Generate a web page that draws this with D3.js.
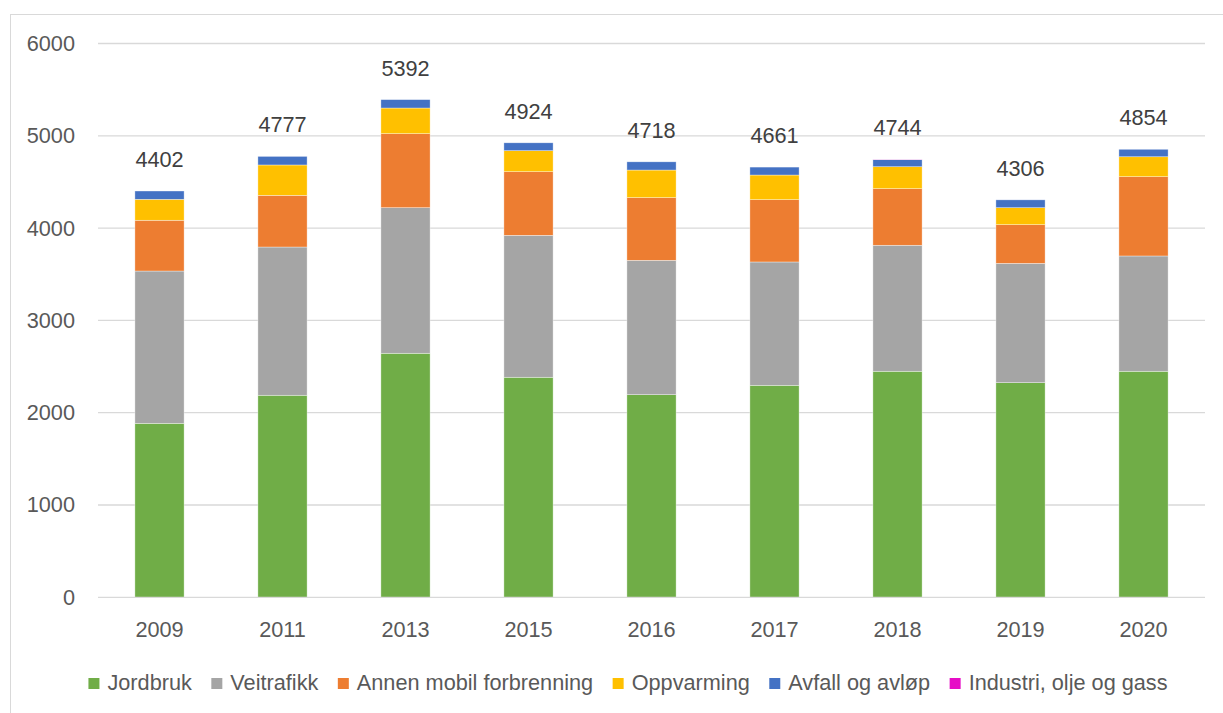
<!DOCTYPE html>
<html>
<head>
<meta charset="utf-8">
<script src="https://cdn.jsdelivr.net/npm/d3@7"></script>
<style>
  html, body { margin: 0; padding: 0; background: #fff; }
  svg { display: block; font-family: "Liberation Sans", Arial, sans-serif; }
</style>
</head>
<body>
<svg id="chart" width="1223" height="713"></svg>
<script>
// ---- Data ----
const years = ["2009", "2011", "2013", "2015", "2016", "2017", "2018", "2019", "2020"];
const seriesNames = ["Jordbruk", "Veitrafikk", "Annen mobil forbrenning", "Oppvarming", "Avfall og avløp", "Industri, olje og gass"];
const jordbruk   = [1885, 2189, 2644, 2384, 2195, 2297, 2449, 2325, 2449];
const veitrafikk = [1650, 1606, 1577, 1538, 1456, 1336, 1365, 1293, 1249];
const annenMobil = [ 550,  560,  802,  689,  679,  675,  613,  419,  859];
const oppvarming = [ 227,  329,  278,  228,  299,  267,  238,  184,  216];
const avfall     = [  90,   93,   91,   85,   89,   86,   76,   85,   81];
const industri   = [   0,    0,    0,    0,    0,    0,    3,    0,    0];
const totals     = [4402, 4777, 5392, 4924, 4718, 4661, 4744, 4306, 4854];
const yTicks = [0, 1000, 2000, 3000, 4000, 5000, 6000];
const colors = ["#70AD47", "#A5A5A5", "#ED7D31", "#FFC000", "#4472C4", "#E60DC6"];

(function () {
const FS = 21.7;
const seriesValues = [jordbruk, veitrafikk, annenMobil, oppvarming, avfall, industri];
const rows = years.map((yr, i) => {
  const r = { year: yr };
  seriesNames.forEach((s, k) => r[s] = seriesValues[k][i]);
  return r;
});

// ---- Layout ----
const svg = d3.select("#chart");
const pLeft = 98, pRight = 1205, pTop = 43.5, pBottom = 597.3;

// outer frame
svg.append("rect")
  .attr("x", 10.5).attr("y", 14.5).attr("width", 1230).attr("height", 720)
  .attr("fill", "#fff").attr("stroke", "#d9d9d9").attr("stroke-width", 1);

const x = d3.scaleBand().domain(years).range([pLeft, pRight]).paddingInner(0.6).paddingOuter(0.3);
const y = d3.scaleLinear().domain([0, 6000]).range([pBottom, pTop]);

// gridlines
svg.append("g").selectAll("line").data(yTicks.filter(t => t > 0)).join("line")
  .attr("x1", pLeft).attr("x2", pRight)
  .attr("y1", d => y(d)).attr("y2", d => y(d))
  .attr("stroke", "#d9d9d9").attr("stroke-width", 1.3);

// y axis labels
const yAxis = d3.axisLeft(y).tickValues(yTicks).tickSize(0).tickPadding(0).tickFormat(d3.format("d"));
const yg = svg.append("g").attr("transform", `translate(${pLeft - 23},0)`).call(yAxis);
yg.select(".domain").remove();
yg.selectAll("text").attr("font-size", FS).attr("fill", "#595959")
  .attr("font-family", "Liberation Sans, Arial, sans-serif");

// stacked bars
const stack = d3.stack().keys(seriesNames);
const stacked = stack(rows);
svg.append("g").selectAll("g").data(stacked).join("g")
  .attr("fill", (d, i) => colors[i])
  .selectAll("rect").data(d => d).join("rect")
  .attr("x", d => x(d.data.year))
  .attr("width", x.bandwidth())
  .attr("y", d => y(d[1]))
  .attr("height", d => Math.max(0, y(d[0]) - y(d[1])))
  .attr("stroke", "#ffffff").attr("stroke-width", 0.6).attr("stroke-opacity", 0.6);

// x axis
const xAxis = d3.axisBottom(x).tickSize(0).tickPadding(0);
const xg = svg.append("g").attr("transform", `translate(0,${pBottom})`).call(xAxis);
xg.select(".domain").attr("stroke", "#d9d9d9").attr("stroke-width", 1.3)
  .attr("d", `M${pLeft},0H${pRight}`);
xg.selectAll("text").attr("font-size", FS).attr("fill", "#595959")
  .attr("dy", null).attr("y", 40)
  .attr("font-family", "Liberation Sans, Arial, sans-serif");

// totals
svg.append("g").selectAll("text").data(years).join("text")
  .attr("x", d => x(d) + x.bandwidth() / 2)
  .attr("y", (d, i) => y(totals[i]) - 24)
  .attr("text-anchor", "middle")
  .attr("font-size", FS).attr("fill", "#404040")
  .text((d, i) => totals[i]);

// legend
const legend = svg.append("g");
const items = legend.selectAll("g").data(seriesNames).join("g");
items.append("rect").attr("width", 11).attr("height", 11).attr("y", -12)
  .attr("fill", (d, i) => colors[i]);
items.append("text").attr("x", 19).attr("y", 0)
  .attr("font-size", FS).attr("fill", "#595959").text(d => d);
let cx = 0;
const gap = 19.5;
items.each(function () {
  const w = this.querySelector("text").getComputedTextLength();
  d3.select(this).attr("transform", `translate(${cx},0)`);
  cx += 19 + w + gap;
});
const totalW = cx - gap;
legend.attr("transform", `translate(${628 - totalW / 2},${690})`);
})();
</script>
</body>
</html>
